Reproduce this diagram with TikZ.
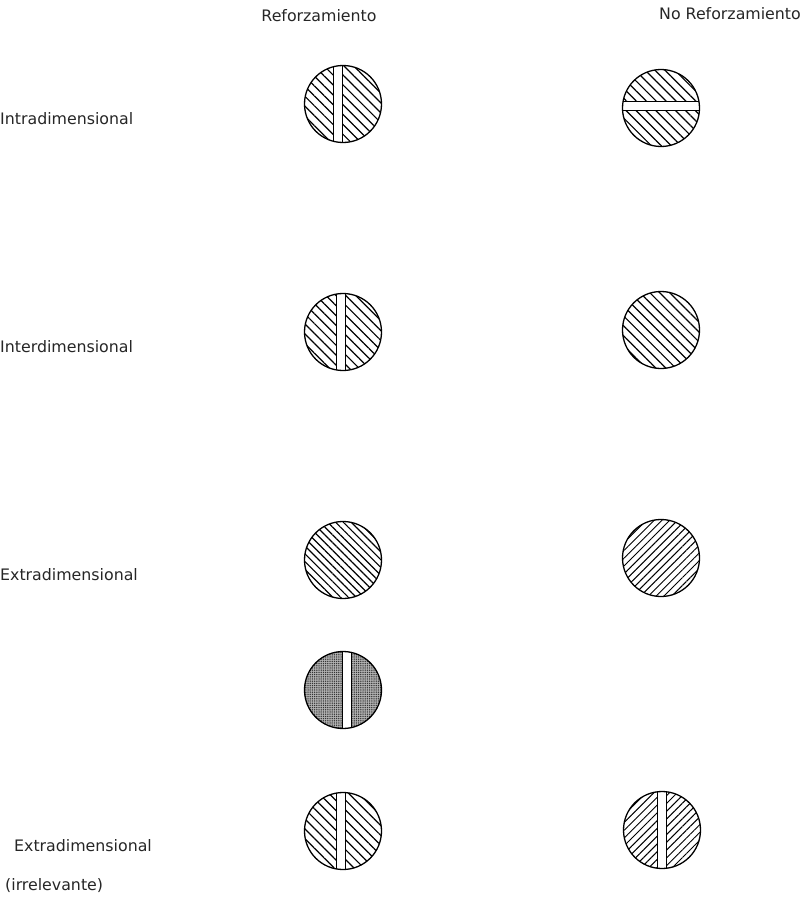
\documentclass[tikz,border=0pt]{standalone}
\usepackage{fontspec}
\setmainfont{DejaVu Sans}
\usetikzlibrary{patterns.meta}

\tikzset{
  disc/.style={circle, draw, line width=1.3pt, minimum size=77pt, inner sep=0pt},
  backhatch/.style={pattern={Lines[angle=-45,distance=#1,line width=1.2pt]}},
  backhatch/.default=7pt,
  fwdhatch/.style={pattern={Lines[angle=45,distance=#1,line width=1pt]}},
  fwdhatch/.default=5.5pt,
  stipple/.style={preaction={fill=gray!60}, pattern={Dots[distance=2.2pt,radius=0.75pt]}, pattern color=black!80},
  % white slot across the disc
  vslot/.style={path picture={
    \fill[white] ([xshift=#1-4.5pt]path picture bounding box.north) rectangle ([xshift=#1+4.5pt]path picture bounding box.south);
    \draw[line width=0.9pt] ([xshift=#1-4.5pt]path picture bounding box.north) -- ([xshift=#1-4.5pt]path picture bounding box.south)
      ([xshift=#1+4.5pt]path picture bounding box.north) -- ([xshift=#1+4.5pt]path picture bounding box.south);}},
  vslot/.default=0pt,
  hslot/.style={path picture={
    \fill[white] ([yshift=#1-4.5pt]path picture bounding box.west) rectangle ([yshift=#1+4.5pt]path picture bounding box.east);
    \draw[line width=0.9pt] ([yshift=#1-4.5pt]path picture bounding box.west) -- ([yshift=#1-4.5pt]path picture bounding box.east)
      ([yshift=#1+4.5pt]path picture bounding box.west) -- ([yshift=#1+4.5pt]path picture bounding box.east);}},
  hslot/.default=0pt,
  lbl/.style={font=\fontsize{15.8}{19}\selectfont, text=black!85, inner sep=0pt}
}

\begin{document}
\begin{tikzpicture}[x=1pt, y=-1pt]
\useasboundingbox (0,0) rectangle (804,910);
% Column headers
\node[lbl] (hRef) at (319,16) {Reforzamiento};
\node[lbl, anchor=east] (hNoRef) at (801,14) {No Reforzamiento};
% Row labels
\node[lbl, anchor=west] (lIntra) at (0,119) {Intradimensional};
\node[lbl, anchor=west] (lInter) at (0,347) {Interdimensional};
\node[lbl, anchor=west] (lExtra) at (0,575) {Extradimensional};
\node[lbl, anchor=west] (lIrr) at (14,846) {Extradimensional};
\node[lbl, anchor=west] (lIrrB) at (5,886) {(irrelevante)};
% Intradimensional
\node[disc, backhatch, vslot=-5pt] (c11) at (343,104) {};
\node[disc, backhatch, hslot=2pt] (c12) at (661,108) {};
% Interdimensional
\node[disc, backhatch, vslot=-2pt] (c21) at (343,332) {};
\node[disc, backhatch] (c22) at (661,330) {};
% Extradimensional
\node[disc, backhatch=5.5pt] (c31) at (343,560) {};
\node[disc, fwdhatch] (c32) at (661,558) {};
\node[disc, stipple, vslot=4pt] (c41) at (343,690) {};
% Extradimensional (irrelevante)
\node[disc, backhatch, vslot=-2pt] (c51) at (343,831) {};
\node[disc, fwdhatch, vslot=0pt] (c52) at (662,830) {};
\end{tikzpicture}
\end{document}
